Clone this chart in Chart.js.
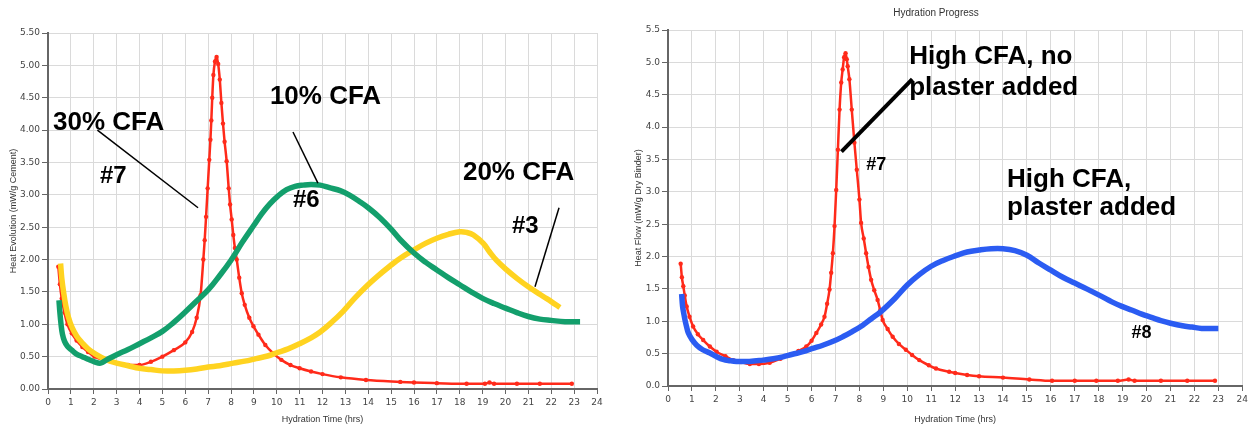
<!DOCTYPE html>
<html>
<head>
<meta charset="utf-8">
<title>Hydration Progress</title>
<script src="https://cdn.jsdelivr.net/npm/chart.js@4"></script>
<style>
  html, body { margin: 0; padding: 0; background: #fff; }
  body { width: 1251px; height: 430px; position: relative; overflow: hidden; }
  canvas { position: absolute; top: 0; }
  #cfaChart { left: 0; }
  #plasterChart { left: 615px; }
</style>
</head>
<body>
<canvas id="cfaChart" width="612" height="430"></canvas>
<canvas id="plasterChart" width="636" height="430"></canvas>
<script>
// Left chart: #7 (30% CFA), #6 (10% CFA), #3 (20% CFA)
const cfa30Hours = [0.45, 0.52, 0.6, 0.72, 0.85, 1.04, 1.25, 1.5, 1.75, 2.03, 2.5, 3.0, 3.5, 4.0, 4.5, 5.0, 5.5, 6.0, 6.3,
  6.5, 6.67, 6.79, 6.85, 6.91, 6.98, 7.05, 7.1, 7.14, 7.18, 7.23, 7.30, 7.37, 7.44, 7.51, 7.58, 7.65, 7.72, 7.81,
  7.9, 7.96, 8.03, 8.1, 8.17, 8.25, 8.36, 8.47, 8.6, 8.8, 8.98, 9.2, 9.5, 9.85, 10.2, 10.6, 11.0, 11.5, 12.0,
  12.8, 13.9, 15.4, 16.0, 17.0, 18.3, 19.1, 19.3, 19.5, 20.5, 21.5, 22.9];
const cfa30Heat = [1.89, 1.62, 1.40, 1.18, 1.00, 0.86, 0.75, 0.65, 0.57, 0.50, 0.44, 0.40, 0.37, 0.37, 0.42, 0.50, 0.60, 0.72, 0.88,
  1.10, 1.45, 2.0, 2.3, 2.66, 3.1, 3.54, 3.85, 4.15, 4.50, 4.85, 5.06, 5.13, 5.02, 4.78, 4.42, 4.10, 3.82, 3.52,
  3.10, 2.85, 2.62, 2.38, 2.18, 2.0, 1.72, 1.48, 1.30, 1.10, 0.97, 0.84, 0.68, 0.55, 0.45, 0.37, 0.32, 0.27, 0.23,
  0.18, 0.14, 0.11, 0.10, 0.09, 0.08, 0.08, 0.10, 0.08, 0.08, 0.08, 0.08];

const cfa20Hours = [0.55, 0.6, 0.68, 0.78, 0.9, 1.04, 1.25, 1.5, 1.75, 2.03, 2.5, 3.0, 3.5, 4.0, 4.5, 5.0, 5.5, 6.0, 6.5,
  7.0, 7.5, 8.1, 8.6, 9.1, 9.6, 10.0, 10.5, 11.0, 11.5, 11.9, 12.4, 12.9, 13.4, 13.9, 14.4, 14.95, 15.4, 16.0,
  16.5, 17.0, 17.5, 18.0, 18.3, 18.6, 19.03, 19.3, 19.6, 20.05, 20.5, 21.0, 21.65, 22.0, 22.38];
const cfa20Heat = [1.94, 1.72, 1.50, 1.28, 1.10, 0.96, 0.82, 0.71, 0.62, 0.55, 0.46, 0.40, 0.36, 0.32, 0.30, 0.28, 0.28, 0.29, 0.31,
  0.34, 0.36, 0.40, 0.43, 0.47, 0.51, 0.56, 0.62, 0.70, 0.79, 0.88, 1.03, 1.20, 1.40, 1.58, 1.74, 1.90, 2.02, 2.15,
  2.25, 2.33, 2.39, 2.43, 2.42, 2.38, 2.25, 2.12, 1.99, 1.84, 1.71, 1.58, 1.43, 1.35, 1.26];

const cfa10Hours = [0.48, 0.52, 0.57, 0.63, 0.72, 0.85, 1.04, 1.25, 1.5, 1.75, 2.03, 2.3, 2.56, 3.0, 3.5, 4.0, 4.5, 5.0,
  5.5, 6.0, 6.5, 7.0, 7.5, 8.0, 8.5, 9.0, 9.35, 9.7, 10.05, 10.43, 10.8, 11.16, 11.5, 11.9, 12.3, 12.8, 13.2, 13.6,
  14.0, 14.5, 15.0, 15.39, 16.0, 16.5, 17.0, 17.5, 18.0, 18.5, 19.0, 19.5, 20.0, 20.5, 21.0, 21.5, 22.0, 22.6, 23.26];
const cfa10Heat = [1.37, 1.18, 1.00, 0.85, 0.74, 0.66, 0.60, 0.54, 0.50, 0.46, 0.42, 0.40, 0.45, 0.53, 0.61, 0.70, 0.79, 0.89,
  1.03, 1.19, 1.36, 1.53, 1.75, 1.99, 2.27, 2.53, 2.71, 2.86, 2.98, 3.08, 3.13, 3.15, 3.16, 3.15, 3.11, 3.06, 2.99, 2.90,
  2.80, 2.65, 2.47, 2.31, 2.10, 1.96, 1.84, 1.72, 1.61, 1.50, 1.40, 1.32, 1.25, 1.18, 1.12, 1.08, 1.06, 1.04, 1.04];

// Right chart: #7 (no plaster), #8 (plaster added)
const noPlasterHours = [0.53, 0.58, 0.64, 0.7, 0.78, 0.9, 1.05, 1.25, 1.47, 1.75, 2.03, 2.4, 2.72, 3.05, 3.42, 3.8, 4.25,
  4.7, 5.08, 5.45, 5.78, 6.0, 6.2, 6.4, 6.54, 6.65, 6.75, 6.82, 6.89, 6.96, 7.03, 7.10, 7.17, 7.24, 7.30, 7.36,
  7.42, 7.47, 7.51, 7.58, 7.68, 7.79, 7.89, 8.0, 8.07, 8.18, 8.28, 8.38, 8.49, 8.62, 8.76, 8.87, 8.97, 9.18, 9.39,
  9.65, 9.94, 10.2, 10.5, 10.9, 11.2, 11.75, 12.0, 12.5, 13.0, 14.0, 15.1, 16.05, 17.0, 17.9, 18.8, 19.25, 19.5,
  20.6, 21.7, 22.86];
const noPlasterHeat = [1.89, 1.68, 1.54, 1.40, 1.23, 1.07, 0.92, 0.80, 0.71, 0.61, 0.53, 0.46, 0.40, 0.37, 0.34, 0.34, 0.36,
  0.42, 0.48, 0.54, 0.61, 0.70, 0.82, 0.95, 1.07, 1.27, 1.49, 1.75, 2.05, 2.47, 3.03, 3.65, 4.27, 4.69, 4.89, 5.08,
  5.14, 5.05, 4.94, 4.74, 4.27, 3.76, 3.34, 2.88, 2.52, 2.28, 2.05, 1.84, 1.64, 1.48, 1.33, 1.17, 1.02, 0.88, 0.76,
  0.65, 0.56, 0.48, 0.40, 0.32, 0.27, 0.22, 0.20, 0.17, 0.15, 0.13, 0.10, 0.08, 0.08, 0.08, 0.08, 0.10, 0.08,
  0.08, 0.08, 0.08];

const plasterHours = [0.57, 0.61, 0.66, 0.71, 0.78, 0.85, 1.0, 1.2, 1.45, 1.75, 2.0, 2.3, 2.6, 2.86, 3.4, 3.97, 4.4, 4.8,
  5.2, 5.64, 6.05, 6.47, 6.9, 7.3, 7.7, 8.14, 8.5, 8.9, 9.5, 10.0, 10.5, 11.0, 11.5, 12.0, 12.5, 13.0, 13.5, 14.0,
  14.5, 15.0, 15.5, 16.0, 16.5, 17.0, 17.5, 18.14, 18.55, 18.97, 19.4, 19.8, 20.2, 20.6, 21.0, 21.5, 21.9, 22.3, 23.0];
const plasterHeat = [1.42, 1.23, 1.12, 1.02, 0.91, 0.82, 0.72, 0.63, 0.56, 0.51, 0.46, 0.41, 0.39, 0.38, 0.38, 0.40, 0.42, 0.45,
  0.49, 0.53, 0.58, 0.63, 0.69, 0.76, 0.84, 0.94, 1.04, 1.15, 1.36, 1.56, 1.72, 1.85, 1.94, 2.01, 2.07, 2.10, 2.12, 2.12,
  2.09, 2.02, 1.90, 1.79, 1.68, 1.59, 1.50, 1.38, 1.30, 1.23, 1.17, 1.11, 1.06, 1.01, 0.97, 0.93, 0.91, 0.89, 0.89];

const RED = '#ff2a1a';
const GREEN = '#139f6c';
const YELLOW = '#ffd320';
const BLUE = '#2b5cf2';

const TICK_FONT = { family: '"DejaVu Sans", sans-serif', size: 9 };
const TITLE_FONT = { family: '"Liberation Sans", Arial, sans-serif', size: 9 };

function toPoints(hours, values) {
  return hours.map((h, i) => ({ x: h, y: values[i] }));
}

function lineSet(label, hours, values, color, dotted) {
  return {
    label: label,
    data: toPoints(hours, values),
    borderColor: color,
    backgroundColor: color,
    borderWidth: dotted ? 2.5 : 5.5,
    pointRadius: dotted ? 2.2 : 0,
    pointBorderWidth: 0,
    pointBackgroundColor: color,
    // the sharp red peaks keep monotone curves, the broad ones are smoothed
    cubicInterpolationMode: dotted ? 'monotone' : 'default',
    tension: 0.4,
    fill: false,
  };
}

// Callout texts and pointer lines, placed in data units.
function notesPlugin(labels, lines) {
  return {
    id: 'notes',
    afterDatasetsDraw(chart) {
      const ctx = chart.ctx;
      const x = chart.scales.x;
      const y = chart.scales.y;
      ctx.save();
      ctx.strokeStyle = '#000';
      lines.forEach((l) => {
        ctx.lineWidth = l.width;
        ctx.beginPath();
        ctx.moveTo(x.getPixelForValue(l.from[0]), y.getPixelForValue(l.from[1]));
        ctx.lineTo(x.getPixelForValue(l.to[0]), y.getPixelForValue(l.to[1]));
        ctx.stroke();
      });
      ctx.fillStyle = '#000';
      ctx.textAlign = 'left';
      ctx.textBaseline = 'middle';
      labels.forEach((t) => {
        ctx.font = `bold ${t.size}px "Liberation Sans", Arial, sans-serif`;
        ctx.fillText(t.text, x.getPixelForValue(t.at[0]), y.getPixelForValue(t.at[1]));
      });
      ctx.restore();
    },
  };
}

function buildChart(canvasId, settings) {
  return new Chart(document.getElementById(canvasId), {
    type: 'line',
    data: { datasets: settings.datasets },
    options: {
      responsive: false,
      animation: false,
      layout: { padding: settings.padding },
      plugins: {
        legend: { display: false },
        tooltip: { enabled: false },
        title: settings.title,
      },
      scales: {
        x: {
          type: 'linear',
          min: 0,
          max: 24,
          afterFit(scale) { scale.height = settings.xHeight; },
          ticks: { stepSize: 1, font: TICK_FONT, color: '#444', padding: 3, maxRotation: 0 },
          grid: { color: '#dadada', tickColor: '#666', tickLength: 5 },
          border: { color: '#666', width: 2 },
          title: {
            display: true, text: 'Hydration Time (hrs)', font: TITLE_FONT, color: '#333',
            padding: { top: 0, bottom: 5 },
          },
        },
        y: {
          min: 0,
          max: 5.5,
          afterFit(scale) { scale.width = settings.yWidth; },
          ticks: {
            stepSize: 0.5, font: TICK_FONT, color: '#444', padding: 2,
            callback: (v) => v.toFixed(settings.decimals),
          },
          grid: { color: '#dadada', tickColor: '#666', tickLength: 6 },
          border: { color: '#666', width: 2 },
          title: {
            display: true, text: settings.yTitle, font: TITLE_FONT, color: '#333',
            padding: { top: settings.yTitlePad, bottom: 0 },
          },
        },
      },
    },
    plugins: [notesPlugin(settings.labels, settings.lines)],
  });
}

buildChart('cfaChart', {
  datasets: [
    lineSet('#6 10% CFA', cfa10Hours, cfa10Heat, GREEN, false),
    lineSet('#3 20% CFA', cfa20Hours, cfa20Heat, YELLOW, false),
    lineSet('#7 30% CFA', cfa30Hours, cfa30Heat, RED, true),
  ],
  padding: { top: 33, right: 15, left: 0, bottom: 0 },
  title: { display: false },
  xHeight: 41,
  yWidth: 48,
  decimals: 2,
  yTitle: 'Heat Evolution (mW/g Cement)',
  yTitlePad: 8,
  labels: [
    { text: '30% CFA', at: [0.22, 4.11], size: 26 },
    { text: '#7', at: [2.27, 3.29], size: 24 },
    { text: '10% CFA', at: [9.7, 4.51], size: 26 },
    { text: '#6', at: [10.71, 2.92], size: 24 },
    { text: '20% CFA', at: [18.14, 3.34], size: 26 },
    { text: '#3', at: [20.28, 2.52], size: 24 },
  ],
  lines: [
    { from: [2.16, 4.0], to: [6.56, 2.80], width: 1.5 },
    { from: [10.71, 3.97], to: [11.8, 3.18], width: 1.5 },
    { from: [22.34, 2.80], to: [21.29, 1.58], width: 1.5 },
  ],
});

buildChart('plasterChart', {
  datasets: [
    lineSet('#8 High CFA, plaster added', plasterHours, plasterHeat, BLUE, false),
    lineSet('#7 High CFA, no plaster added', noPlasterHours, noPlasterHeat, RED, true),
  ],
  padding: { top: 0, right: 7, left: 13, bottom: 0 },
  title: {
    display: true, text: 'Hydration Progress', color: '#333',
    font: { family: '"Liberation Sans", Arial, sans-serif', size: 10, weight: 'normal' },
    padding: { top: 7, bottom: 11 },
  },
  xHeight: 44,
  yWidth: 40,
  decimals: 1,
  yTitle: 'Heat Flow (mW/g Dry Binder)',
  yTitlePad: 5,
  labels: [
    { text: 'High CFA, no', at: [10.08, 5.09], size: 26 },
    { text: 'plaster added', at: [10.08, 4.61], size: 26 },
    { text: '#7', at: [8.29, 3.42], size: 18 },
    { text: 'High CFA,', at: [14.17, 3.19], size: 26 },
    { text: 'plaster added', at: [14.17, 2.76], size: 26 },
    { text: '#8', at: [19.375, 0.82], size: 18 },
  ],
  lines: [
    { from: [7.25, 3.62], to: [10.21, 4.74], width: 4 },
  ],
});
</script>
</body>
</html>
